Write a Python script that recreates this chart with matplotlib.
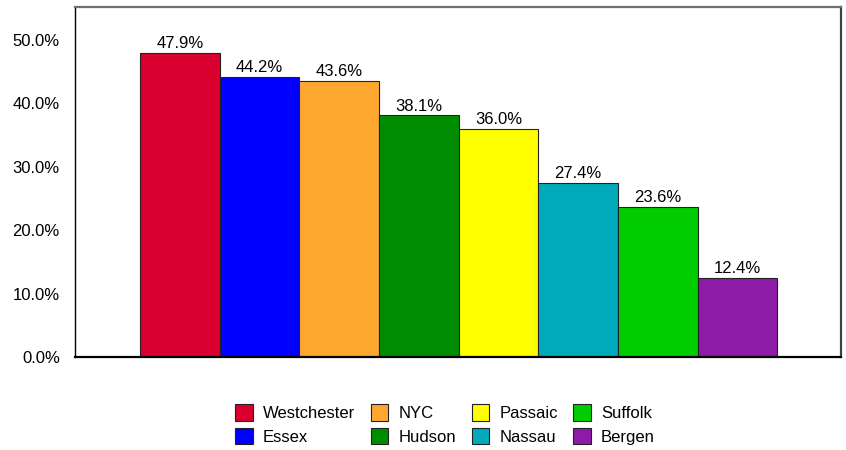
import matplotlib
matplotlib.use('Agg')

import numpy as np
import matplotlib.pyplot as plt
from matplotlib.ticker import FuncFormatter

counties = ["Westchester", "Essex", "NYC", "Hudson", "Passaic", "Nassau", "Suffolk", "Bergen"]
shares = [47.9, 44.2, 43.6, 38.1, 36.0, 27.4, 23.6, 12.4]
colors = ["#d90030", "#0000ff", "#ffa830", "#008c00", "#ffff00", "#00aabb", "#00cc00", "#8e1aa8"]

plt.rcParams['font.family'] = ['Liberation Sans', 'DejaVu Sans']

fig = plt.figure(figsize=(8.46, 4.5), dpi=100)
ax = fig.add_axes([0.0887, 0.2067, 0.9054, 0.7777])

x = np.arange(len(counties))
bars = ax.bar(x, shares, width=1.0, color=colors, edgecolor="#222222", linewidth=0.8, label=counties)

for b, v in zip(bars, shares):
    ax.text(b.get_x() + b.get_width() / 2, v + 0.3, "%.1f%%" % v,
            ha="center", va="bottom", fontsize=12)

ax.set_xlim(-1.317, 8.3)
ax.set_ylim(0, 55.2)
ax.set_yticks(np.arange(0, 51, 10))
ax.yaxis.set_major_formatter(FuncFormatter(lambda v, p: "%.1f%%" % v))
ax.set_xticks([])
ax.tick_params(axis='y', length=0, pad=11, labelsize=12)

ax.spines['left'].set_color('black')
ax.spines['left'].set_linewidth(1.0)
ax.spines['bottom'].set_color('black')
ax.spines['bottom'].set_linewidth(1.6)
ax.spines['top'].set_color('#707070')
ax.spines['top'].set_linewidth(1.6)
ax.spines['right'].set_color('#404040')
ax.spines['right'].set_linewidth(1.6)

handles = list(bars)
fig.legend(handles, counties, loc='center', bbox_to_anchor=(0.526, 0.057), ncol=4,
           frameon=False, fontsize=12, handlelength=1.05, handleheight=1.15,
           handletextpad=0.6, columnspacing=0.95, labelspacing=0.4, borderpad=0)

plt.savefig("out.png", dpi=100)
